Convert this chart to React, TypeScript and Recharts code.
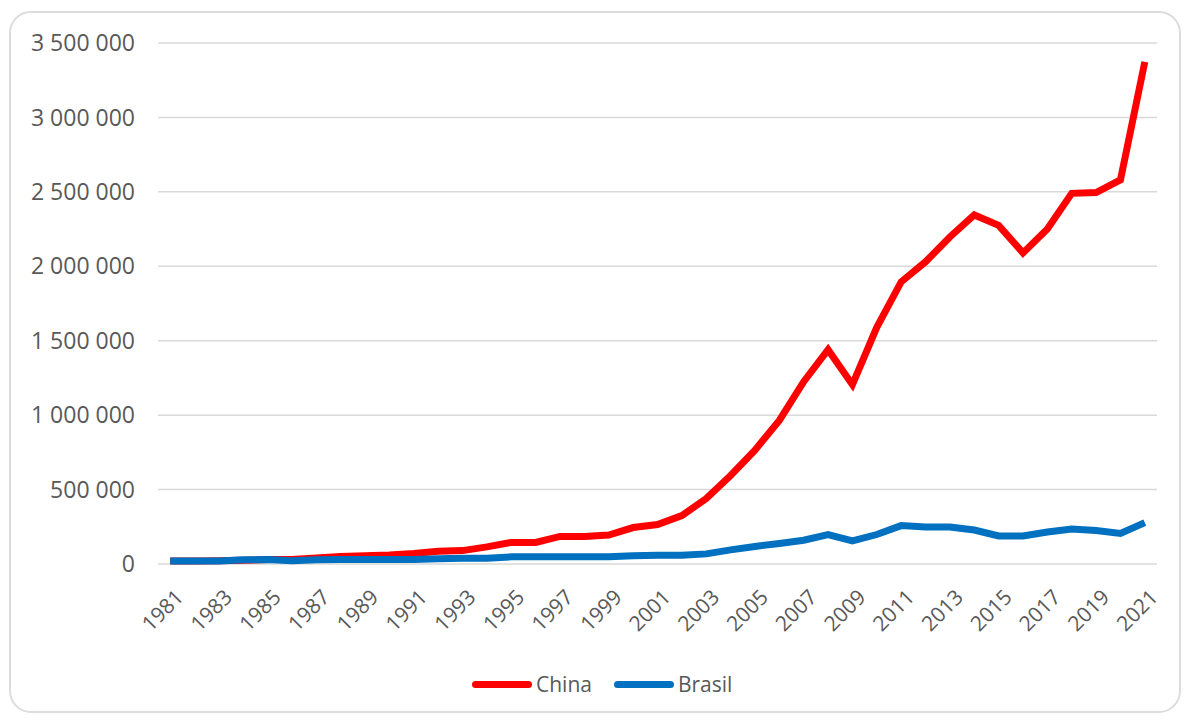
import { LineChart, Line, XAxis, YAxis, CartesianGrid, Legend } from 'recharts';

const years = [
  '1981', '1982', '1983', '1984', '1985', '1986', '1987', '1988', '1989', '1990',
  '1991', '1992', '1993', '1994', '1995', '1996', '1997', '1998', '1999', '2000',
  '2001', '2002', '2003', '2004', '2005', '2006', '2007', '2008', '2009', '2010',
  '2011', '2012', '2013', '2014', '2015', '2016', '2017', '2018', '2019', '2020', '2021',
];

const china = [
  20000, 20000, 22000, 25000, 30000, 30000, 40000, 50000, 55000, 60000,
  70000, 85000, 90000, 115000, 145000, 145000, 185000, 185000, 195000, 245000,
  265000, 325000, 440000, 595000, 765000, 965000, 1225000, 1440000, 1205000, 1590000,
  1895000, 2030000, 2197000, 2345000, 2275000, 2090000, 2250000, 2490000, 2495000, 2580000, 3373000,
];

const brasil = [
  20000, 20000, 20000, 28000, 30000, 22000, 28000, 30000, 30000, 30000,
  30000, 35000, 38000, 38000, 48000, 48000, 48000, 48000, 48000, 55000,
  58000, 58000, 68000, 95000, 118000, 138000, 160000, 198000, 155000, 198000,
  258000, 248000, 248000, 228000, 188000, 188000, 215000, 235000, 225000, 205000, 278000,
];

const yTicks = [0, 500000, 1000000, 1500000, 2000000, 2500000, 3000000, 3500000];

const data = years.map((year, i) => ({ year, China: china[i], Brasil: brasil[i] }));

const font = "'Open Sans', 'Noto Sans', sans-serif";
const textColor = '#595959';

const fmt = (v: number) => String(v).replace(/\B(?=(\d{3})+(?!\d))/g, ' ');

function LegendContent() {
  const items = [
    { name: 'China', color: '#ff0000' },
    { name: 'Brasil', color: '#0070c0' },
  ];
  return (
    <div style={{ display: 'flex', alignItems: 'center', fontFamily: font, fontSize: 21, color: textColor }}>
      {items.map((it) => (
        <div key={it.name} style={{ display: 'flex', alignItems: 'center', marginRight: 22 }}>
          <span style={{ display: 'inline-block', width: 60, height: 7, borderRadius: 4, background: it.color, marginRight: 4 }} />
          <span>{it.name}</span>
        </div>
      ))}
    </div>
  );
}

export default function App() {
  return (
    <div style={{ position: 'absolute', left: 0, top: 0, width: 1187, height: 720, background: '#fff' }}>
      <div
        style={{
          position: 'absolute',
          left: 9,
          top: 11,
          width: 1168,
          height: 698,
          border: '2px solid #dcdcdc',
          borderRadius: 22,
        }}
      />
      <div style={{ position: 'absolute', left: 0, top: 0 }}>
        <LineChart width={1187} height={720} data={data} margin={{ top: 43, right: 30, left: 8, bottom: 20 }}>
          <CartesianGrid vertical={false} stroke="#d9d9d9" strokeWidth={1.5} />
          <XAxis
            dataKey="year"
            scale="band"
            interval={1}
            axisLine={false}
            tickLine={false}
            tickSize={0}
            height={108}
            tick={{ fill: textColor, fontSize: 21, fontFamily: font, angle: -45, textAnchor: 'end', dx: 4, dy: 22 } as any}
          />
          <YAxis
            width={150}
            domain={[0, 3500000]}
            ticks={yTicks}
            tickFormatter={fmt}
            axisLine={false}
            tickLine={false}
            tickSize={0}
            tickMargin={23}
            tick={{ fill: textColor, fontSize: 23, fontFamily: font }}
          />
          <Legend
            verticalAlign="bottom"
            content={<LegendContent />}
            wrapperStyle={{ left: 472, top: 670, width: 'auto', height: 28 }}
          />
          <Line
            type="linear"
            dataKey="China"
            stroke="#ff0000"
            strokeWidth={7}
            dot={false}
            isAnimationActive={false}
          />
          <Line
            type="linear"
            dataKey="Brasil"
            stroke="#0070c0"
            strokeWidth={7}
            dot={false}
            isAnimationActive={false}
          />
        </LineChart>
      </div>
    </div>
  );
}
